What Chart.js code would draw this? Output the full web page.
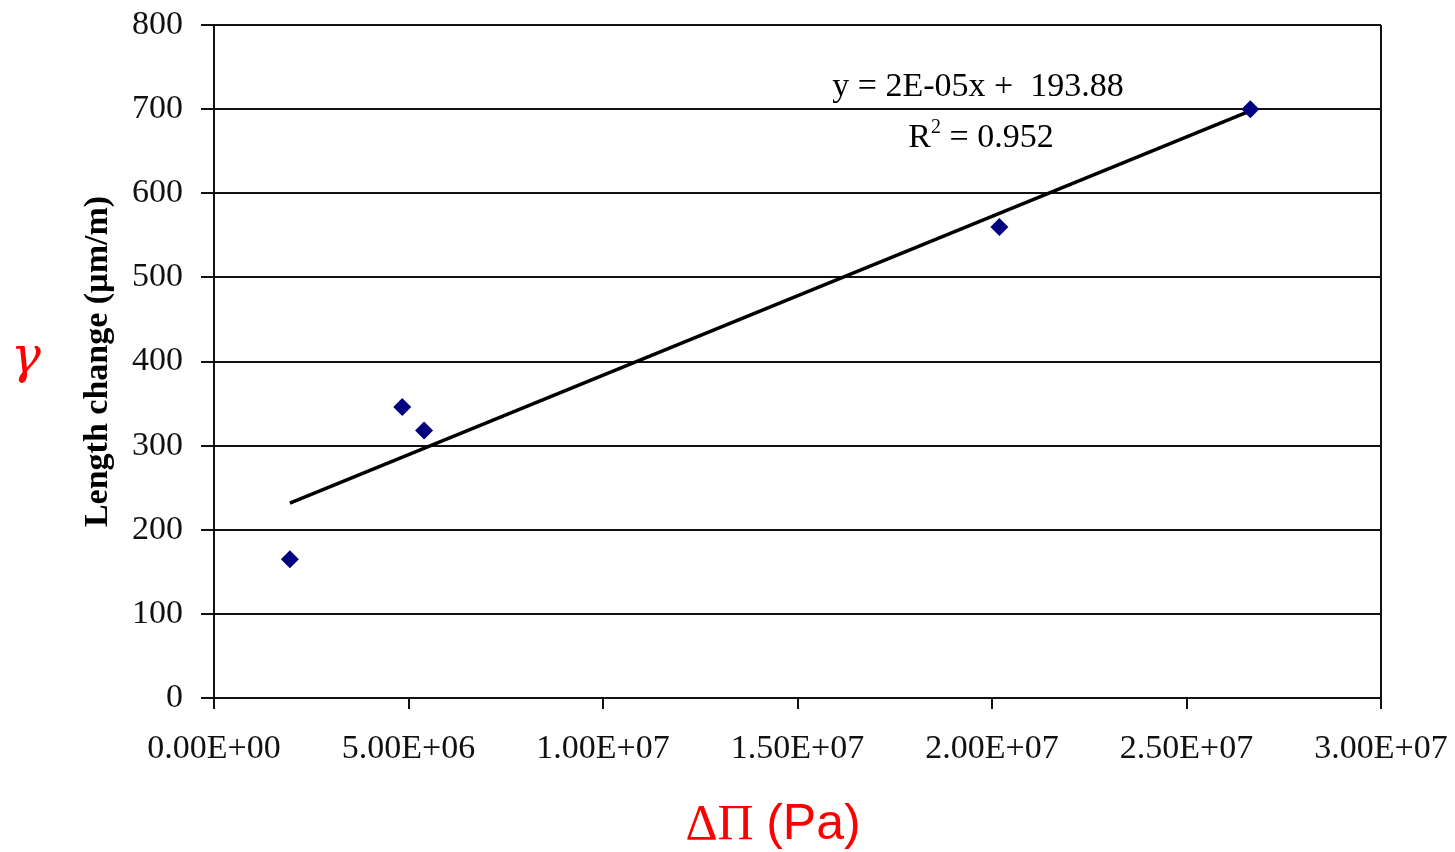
<!DOCTYPE html>
<html>
<head>
<meta charset="utf-8">
<script src="https://cdn.jsdelivr.net/npm/chart.js@4.4.1/dist/chart.umd.min.js"></script>
<style>
  html, body { margin: 0; padding: 0; background: #ffffff; }
  #wrap { width: 1455px; height: 852px; position: relative; }
</style>
</head>
<body>
<div id="wrap"><canvas id="c"></canvas></div>
<script>
// ---- data ----
const pressureDiff = [1.95e6, 4.84e6, 5.40e6, 2.019e7, 2.664e7];   // ΔΠ (Pa)
const lengthChange = [165, 346, 318, 560, 700];                    // µm/m
const xTickValues = [0, 5e6, 1e7, 1.5e7, 2e7, 2.5e7, 3e7];
const yTickValues = [0, 100, 200, 300, 400, 500, 600, 700, 800];
const equationText = "y = 2E-05x +  193.88";
const r2Text = " = 0.952";
const yAxisTitle = "Length change (\u00b5m/m)";

// scatter points
const points = pressureDiff.map((x, i) => ({ x: x, y: lengthChange[i] }));

// linear trendline (least squares) from the data
const n = pressureDiff.length;
const mx = pressureDiff.reduce((a, b) => a + b, 0) / n;
const my = lengthChange.reduce((a, b) => a + b, 0) / n;
let sxy = 0, sxx = 0;
for (let i = 0; i < n; i++) {
  sxy += (pressureDiff[i] - mx) * (lengthChange[i] - my);
  sxx += (pressureDiff[i] - mx) * (pressureDiff[i] - mx);
}
const slope = sxy / sxx;
const intercept = my - slope * mx;
const xMinData = Math.min(...pressureDiff);
const xMaxData = Math.max(...pressureDiff);
const trend = [
  { x: xMinData, y: slope * xMinData + intercept },
  { x: xMaxData, y: slope * xMaxData + intercept }
];

function sci(v) {
  if (v === 0) return "0.00E+00";
  const e = Math.floor(Math.log10(Math.abs(v)) + 1e-9);
  const m = v / Math.pow(10, e);
  const sign = e < 0 ? "-" : "+";
  const ea = Math.abs(e);
  return m.toFixed(2) + "E" + sign + (ea < 10 ? "0" + ea : "" + ea);
}

const tickFont = { family: "'Liberation Serif', 'Times New Roman', serif", size: 34 };

const overlay = {
  id: 'overlay',
  afterDraw(chart) {
    const ctx = chart.ctx;
    ctx.save();
    // equation
    ctx.fillStyle = '#000';
    ctx.textBaseline = 'alphabetic';
    ctx.font = "34px 'Liberation Serif', serif";
    ctx.textAlign = 'center';
    ctx.fillText(equationText, 978, 96);
    // R^2
    ctx.textAlign = 'left';
    const rW = ctx.measureText('R').width;
    const restW = ctx.measureText(r2Text).width;
    ctx.font = "20px 'Liberation Serif', serif";
    const supW = ctx.measureText('2').width;
    const total = rW + supW + restW;
    let x0 = 981 - total / 2;
    ctx.font = "34px 'Liberation Serif', serif";
    ctx.fillText('R', x0, 147);
    ctx.font = "20px 'Liberation Serif', serif";
    ctx.fillText('2', x0 + rW, 133);
    ctx.font = "34px 'Liberation Serif', serif";
    ctx.fillText(r2Text, x0 + rW + supW, 147);

    // red gamma
    ctx.fillStyle = '#ff0000';
    ctx.font = "italic 50px 'DejaVu Serif', serif";
    ctx.fillText('\u03b3', 11, 372);

    // red x label
    ctx.font = "50px 'Liberation Serif', serif";
    const part1 = '\u0394\u03a0 ';
    const w1 = ctx.measureText(part1).width;
    ctx.font = "50px 'Liberation Sans', Arial, sans-serif";
    const w2 = ctx.measureText('(Pa)').width;
    const sx = 773 - (w1 + w2) / 2;
    ctx.font = "50px 'Liberation Serif', serif";
    ctx.fillText(part1, sx, 839);
    ctx.font = "50px 'Liberation Sans', Arial, sans-serif";
    ctx.fillText('(Pa)', sx + w1, 839);
    ctx.restore();
  }
};

new Chart(document.getElementById('c'), {
  type: 'scatter',
  data: {
    datasets: [
      {
        label: 'Length change',
        data: points,
        backgroundColor: '#000080',
        borderColor: '#000080',
        pointStyle: 'rectRot',
        pointRadius: 9,
        pointBorderWidth: 0,
        showLine: false,
        order: 1
      },
      {
        label: 'Linear trend',
        data: trend,
        showLine: true,
        borderColor: '#000000',
        borderWidth: 3.5,
        pointRadius: 0,
        fill: false,
        order: 2
      }
    ]
  },
  options: {
    responsive: true,
    maintainAspectRatio: false,
    animation: false,
    layout: { padding: { left: 78, right: 74, top: 25, bottom: 54 } },
    plugins: {
      legend: { display: false },
      tooltip: { enabled: false }
    },
    scales: {
      x: {
        type: 'linear',
        min: 0,
        max: 3e7,
        afterBuildTicks(scale) { scale.ticks = xTickValues.map(v => ({ value: v })); },
        afterFit(scale) {
          scale.height = 100;
          scale.paddingLeft = 0; scale.paddingRight = 0;
          scale.paddingTop = 0; scale.paddingBottom = 0;
        },
        ticks: {
          callback: (v) => sci(v),
          font: tickFont,
          color: '#111',
          padding: 20,
          maxRotation: 0,
          autoSkip: false
        },
        grid: {
          drawOnChartArea: true,
          color: (ctx) => (ctx.tick && ctx.tick.value === 3e7) ? '#111' : 'rgba(0,0,0,0)',
          tickColor: '#111',
          tickLength: 11,
          lineWidth: 2
        },
        border: { display: true, color: '#111', width: 2 }
      },
      y: {
        type: 'linear',
        min: 0,
        max: 800,
        afterBuildTicks(scale) { scale.ticks = yTickValues.map(v => ({ value: v })); },
        afterFit(scale) {
          scale.width = 136;
          scale.paddingLeft = 0; scale.paddingRight = 0;
          scale.paddingTop = 0; scale.paddingBottom = 0;
        },
        ticks: {
          font: tickFont,
          color: '#111',
          padding: 18,
          autoSkip: false
        },
        grid: {
          color: '#111',
          tickColor: '#111',
          tickLength: 13,
          lineWidth: 2
        },
        border: { display: true, color: '#111', width: 2 },
        title: {
          display: true,
          text: yAxisTitle,
          color: '#000',
          font: { family: "'Liberation Serif', 'Times New Roman', serif", size: 34, weight: 'bold' },
          padding: { top: 0, bottom: 0 }
        }
      }
    }
  },
  plugins: [overlay]
});
</script>
</body>
</html>
